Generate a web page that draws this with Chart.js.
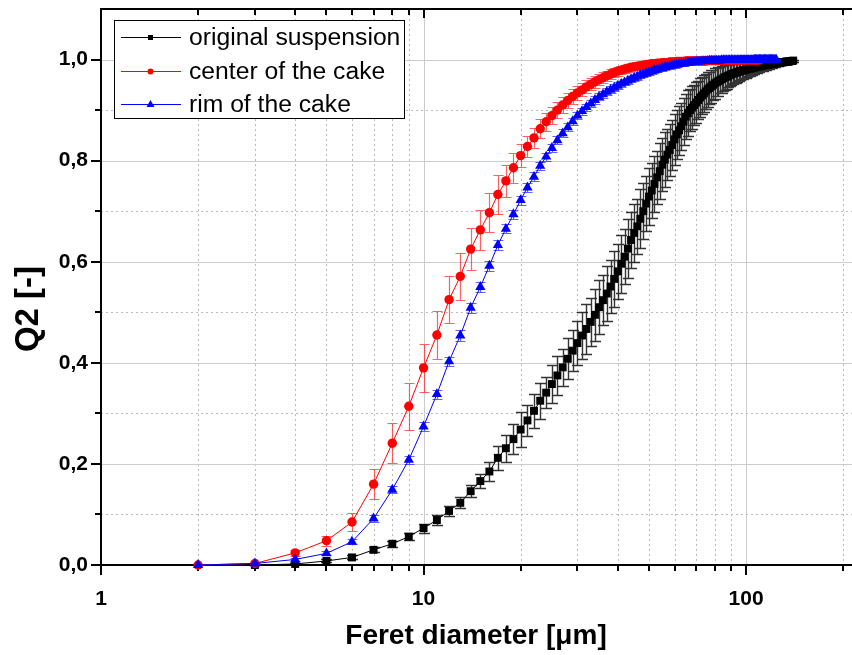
<!DOCTYPE html>
<html>
<head>
<meta charset="utf-8">
<script src="https://cdn.jsdelivr.net/npm/chart.js@4.4.0/dist/chart.umd.min.js"></script>
<style>
html, body { margin: 0; padding: 0; background: #fff; }
#wrap { width: 852px; height: 655px; position: relative; }
</style>
</head>
<body>
<div id="wrap"><canvas id="chart"></canvas></div>
<script>
// --- Data ---
const SERIES_NAMES = ['original suspension', 'center of the cake', 'rim of the cake'];

const BLACK_X = [3,4,5,6,7,8,9,10,
  11,12,13,14,15,16,17,18,19,20,
  21,22,23,24,25,26,27,28,29,30,
  31,32,33,34,35,36,37,38,39,40,
  41,42,43,44,45,46,47,48,49,50,
  51,52,53,54,55,56,57,58,59,60,
  61,62,63,64,65,66,67,68,69,70,
  71,72,73,74,75,76,77,78,79,80,
  81,82,83,84,85,86,87,88,89,90,
  91,92,93,94,95,96,97,98,99,100,
  101,102,103,104,105,106,107,108,109,110,
  111,112,113,114,115,116,117,118,119,120,
  121,122,123,124,125,126,127,128,129,130,
  131,132,133,134,135,136,137,138,139,140];
const BLACK_Y = [0.000,0.002,0.008,0.015,0.030,0.042,0.056,0.073,
  0.089,0.107,0.123,0.146,0.166,0.185,0.212,0.231,0.249,0.268,
  0.286,0.305,0.325,0.341,0.358,0.375,0.391,0.408,0.424,0.439,
  0.454,0.467,0.481,0.495,0.510,0.524,0.537,0.551,0.566,0.581,
  0.596,0.610,0.626,0.643,0.657,0.670,0.685,0.700,0.715,0.729,
  0.741,0.754,0.767,0.779,0.792,0.802,0.812,0.821,0.831,0.842,
  0.852,0.860,0.868,0.877,0.887,0.894,0.900,0.905,0.910,0.915,
  0.920,0.925,0.929,0.933,0.937,0.941,0.944,0.947,0.950,0.953,
  0.955,0.957,0.959,0.961,0.963,0.965,0.966,0.968,0.969,0.971,
  0.972,0.973,0.974,0.975,0.976,0.977,0.978,0.979,0.979,0.980,
  0.981,0.982,0.982,0.983,0.984,0.984,0.985,0.986,0.986,0.987,
  0.987,0.988,0.988,0.989,0.989,0.990,0.990,0.990,0.991,0.991,
  0.992,0.992,0.992,0.993,0.993,0.993,0.994,0.994,0.994,0.995,
  0.995,0.995,0.996,0.996,0.996,0.996,0.997,0.997,0.997,0.998];
const BLACK_ERR = [0,0.001,0.003,0.004,0.005,0.006,0.007,0.009,
  0.010,0.010,0.011,0.012,0.014,0.018,0.024,0.027,0.030,0.034,
  0.030,0.033,0.036,0.031,0.037,0.039,0.037,0.041,0.040,0.044,
  0.046,0.049,0.047,0.051,0.053,0.050,0.055,0.053,0.056,0.054,
  0.057,0.055,0.058,0.056,0.057,0.055,0.058,0.056,0.055,0.057,
  0.054,0.056,0.053,0.055,0.052,0.054,0.051,0.052,0.050,0.051,
  0.048,0.049,0.046,0.047,0.044,0.045,0.042,0.043,0.040,0.041,
  0.038,0.039,0.036,0.037,0.034,0.035,0.032,0.033,0.030,0.031,
  0.028,0.029,0.026,0.027,0.025,0.025,0.024,0.023,0.022,0.022,
  0.021,0.020,0.020,0.019,0.018,0.018,0.017,0.017,0.016,0.016,
  0.015,0.015,0.014,0.014,0.013,0.013,0.012,0.012,0.011,0.011,
  0.010,0.010,0.010,0.009,0.009,0.009,0.008,0.008,0.008,0.007,
  0.007,0.007,0.006,0.006,0.006,0.005,0.005,0.005,0.005,0.004,
  0.004,0.004,0.004,0.003,0.003,0.003,0.003,0.002,0.002,0.002];

const RED_X = [2,3,4,5,6,7,8,9,10,
  11,12,13,14,15,16,17,18,19,20,
  21,22,23,24,25,26,27,28,29,30,
  31,32,33,34,35,36,37,38,39,40,
  41,42,43,44,45,46,47,48,49,50,
  51,52,53,54,55,56,57,58,59,60,
  61,62,63,64,65,66,67,68,69,70,
  71,72,73,74,75,76,77,78,79,80,
  81,82,83,84,85,86,87,88,89,90,
  91,92,93,94,95,96,97,98,99,100,
  101,102,103,104,105,106,107,108,109,110];
const RED_Y = [0.000,0.003,0.024,0.048,0.085,0.160,0.241,0.314,0.390,
  0.455,0.525,0.571,0.625,0.663,0.697,0.733,0.760,0.786,0.810,
  0.828,0.845,0.863,0.877,0.889,0.900,0.910,0.919,0.927,0.934,
  0.940,0.946,0.951,0.956,0.960,0.964,0.968,0.971,0.974,0.977,
  0.979,0.981,0.983,0.985,0.986,0.987,0.988,0.989,0.990,0.991,
  0.992,0.992,0.993,0.993,0.994,0.994,0.994,0.995,0.995,0.995,
  0.996,0.996,0.996,0.996,0.997,0.997,0.997,0.997,0.997,0.997,
  0.997,0.997,0.997,0.997,0.997,0.998,0.998,0.998,0.998,0.998,
  0.998,0.998,0.998,0.998,0.998,0.998,0.998,0.998,0.998,0.998,
  0.998,0.998,0.998,0.998,0.998,0.999,0.999,0.999,0.999,0.999,
  0.999,0.999,0.999,0.999,0.999,0.999,0.999,0.999,0.999,0.999];
const RED_ERR = [0,0.002,0.006,0.010,0.017,0.030,0.039,0.046,0.047,
  0.047,0.047,0.046,0.042,0.040,0.039,0.038,0.032,0.030,0.022,
  0.021,0.020,0.019,0.018,0.017,0.016,0.016,0.015,0.015,0.014,
  0.013,0.013,0.012,0.012,0.011,0.011,0.010,0.010,0.009,0.009,
  0.008,0.008,0.008,0.007,0.007,0.007,0.006,0.006,0.006,0.006,
  0.005,0.005,0.005,0.005,0.005,0.005,0.005,0.005,0.005,0.005,
  0.004,0.004,0.004,0.004,0.004,0.004,0.004,0.004,0.004,0.004,
  0.004,0.004,0.004,0.004,0.004,0.004,0.004,0.004,0.004,0.004,
  0.003,0.003,0.003,0.003,0.003,0.003,0.003,0.003,0.003,0.003,
  0.003,0.003,0.003,0.003,0.003,0.003,0.003,0.003,0.003,0.003,
  0.002,0.002,0.002,0.002,0.002,0.002,0.002,0.002,0.002,0.002];

const BLUE_X = [2,3,4,5,6,7,8,9,10,
  11,12,13,14,15,16,17,18,19,20,
  21,22,23,24,25,26,27,28,29,30,
  31,32,33,34,35,36,37,38,39,40,
  41,42,43,44,45,46,47,48,49,50,
  51,52,53,54,55,56,57,58,59,60,
  61,62,63,64,65,66,67,68,69,70,
  71,72,73,74,75,76,77,78,79,80,
  81,82,83,84,85,86,87,88,89,90,
  91,92,93,94,95,96,97,98,99,100,
  101,102,103,104,105,106,107,108,109,110,
  111,112,113,114,115,116,117,118,119,120,
  121,122,123,124];
const BLUE_Y = [0.000,0.003,0.011,0.023,0.046,0.092,0.149,0.208,0.274,
  0.338,0.403,0.454,0.509,0.550,0.592,0.633,0.665,0.694,0.722,
  0.747,0.768,0.790,0.808,0.825,0.840,0.854,0.866,0.878,0.889,
  0.898,0.906,0.913,0.920,0.926,0.931,0.936,0.940,0.944,0.948,
  0.952,0.955,0.958,0.961,0.964,0.966,0.969,0.971,0.973,0.975,
  0.977,0.979,0.980,0.982,0.983,0.985,0.986,0.987,0.988,0.989,
  0.990,0.991,0.992,0.992,0.993,0.994,0.994,0.995,0.995,0.996,
  0.996,0.996,0.997,0.997,0.997,0.997,0.998,0.998,0.998,0.998,
  0.998,0.998,0.998,0.999,0.999,0.999,0.999,0.999,0.999,0.999,
  0.999,0.999,0.999,0.999,0.999,0.999,0.999,0.999,0.999,0.999,
  0.999,0.999,0.999,0.999,0.999,1.000,1.000,1.000,1.000,1.000,
  1.000,1.000,1.000,1.000,1.000,1.000,1.000,1.000,1.000,1.000,
  1.000,1.000,1.000,1.000];
const BLUE_ERR = [0,0.001,0.003,0.004,0.005,0.006,0.007,0.008,0.009,
  0.009,0.009,0.010,0.010,0.010,0.010,0.010,0.009,0.009,0.009,
  0.009,0.009,0.008,0.008,0.008,0.008,0.008,0.008,0.007,0.007,
  0.007,0.007,0.007,0.007,0.007,0.007,0.007,0.007,0.007,0.007,
  0.006,0.006,0.006,0.006,0.006,0.006,0.006,0.006,0.006,0.006,
  0.005,0.005,0.005,0.005,0.005,0.005,0.005,0.005,0.005,0.005,
  0.004,0.004,0.004,0.004,0.004,0.004,0.004,0.004,0.004,0.004,
  0.003,0.003,0.003,0.003,0.003,0.003,0.003,0.003,0.003,0.003,
  0.003,0.003,0.003,0.003,0.003,0.003,0.003,0.003,0.003,0.003,
  0.002,0.002,0.002,0.002,0.002,0.002,0.002,0.002,0.002,0.002,
  0.002,0.002,0.002,0.002,0.002,0.002,0.002,0.002,0.002,0.002,
  0.001,0.001,0.001,0.001,0.001,0.001,0.001,0.001,0.001,0.001,
  0.001,0.001,0.001,0.001];

const X_TICKS = [1,2,3,4,5,6,7,8,9,10,20,30,40,50,60,70,80,90,100,200];
const X_TICK_LABELS = ['1','','','','','','','','','10','','','','','','','','','100',''];
const X_MAJOR = [1, 10, 100];
const Y_TICKS = [0,0.1,0.2,0.3,0.4,0.5,0.6,0.7,0.8,0.9,1.0];
const Y_TICK_LABELS = ['0,0','','0,2','','0,4','','0,6','','0,8','','1,0'];
const X_TITLE = 'Feret diameter [\u03bcm]';
const Y_TITLE = 'Q2 [-]';

const FONT = '"Liberation Sans", Arial, sans-serif';

function pts(xs, ys) { return xs.map((x, i) => ({ x: x, y: ys[i] })); }

// grid lines and axis frame, drawn under the data
const framePlugin = {
    id: 'frame',
    beforeDatasetsDraw(chart) {
        const { ctx, chartArea: a, scales: { x, y } } = chart;
        ctx.save();
        ctx.lineWidth = 1;
        X_TICKS.forEach(v => {
            const px = Math.round(x.getPixelForValue(v)) + 0.5;
            if (px < a.left + 2 || px > a.right) return;
            const major = X_MAJOR.includes(v);
            ctx.strokeStyle = major ? '#cccccc' : '#bbbbbb';
            ctx.setLineDash(major ? [] : [2, 3]);
            ctx.beginPath(); ctx.moveTo(px, a.top); ctx.lineTo(px, a.bottom); ctx.stroke();
        });
        Y_TICKS.forEach((v, i) => {
            if (i === 0) return;
            const py = Math.round(y.getPixelForValue(v)) + 0.5;
            const major = i % 2 === 0;
            ctx.strokeStyle = major ? '#cccccc' : '#bbbbbb';
            ctx.setLineDash(major ? [] : [2, 3]);
            ctx.beginPath(); ctx.moveTo(a.left, py); ctx.lineTo(a.right, py); ctx.stroke();
        });
        ctx.setLineDash([]);

        // axes
        ctx.strokeStyle = '#000';
        ctx.lineWidth = 2;
        ctx.beginPath();
        ctx.moveTo(a.left, a.top); ctx.lineTo(a.left, a.bottom + 1);
        ctx.moveTo(a.left - 1, a.bottom); ctx.lineTo(a.right, a.bottom);
        ctx.moveTo(a.left - 1, a.top); ctx.lineTo(a.right, a.top);
        ctx.stroke();

        // tick marks
        ctx.beginPath();
        X_TICKS.forEach(v => {
            const px = Math.round(x.getPixelForValue(v));
            if (px > a.right) return;
            const major = X_MAJOR.includes(v);
            ctx.moveTo(px, a.bottom); ctx.lineTo(px, a.bottom + (major ? 10 : 6));
            ctx.moveTo(px, a.top); ctx.lineTo(px, a.top + (major ? 9 : 6));
        });
        Y_TICKS.forEach((v, i) => {
            const py = Math.round(y.getPixelForValue(v));
            ctx.moveTo(a.left, py); ctx.lineTo(a.left - (i % 2 === 0 ? 10 : 6), py);
        });
        ctx.stroke();
        ctx.restore();
    }
};

// vertical error bars with caps, under each dataset's markers
const errorBarPlugin = {
    id: 'errorBars',
    beforeDatasetDraw(chart, args) {
        const ds = chart.data.datasets[args.index];
        if (!ds.errors) return;
        const { ctx, scales: { x, y } } = chart;
        const cap = ds.capHalf || 5;
        ctx.save();
        ctx.strokeStyle = ds.errColor;
        ctx.lineWidth = ds.errWidth || 1;
        ctx.beginPath();
        ds.data.forEach((p, i) => {
            const e = ds.errors[i];
            if (!e) return;
            const px = Math.round(x.getPixelForValue(p.x)) + 0.5;
            const y1 = Math.round(y.getPixelForValue(p.y + e)) + 0.5;
            const y2 = Math.round(y.getPixelForValue(p.y - e)) + 0.5;
            ctx.moveTo(px, y1); ctx.lineTo(px, y2);
            ctx.moveTo(px - cap, y1); ctx.lineTo(px + cap, y1);
            ctx.moveTo(px - cap, y2); ctx.lineTo(px + cap, y2);
        });
        ctx.stroke();
        ctx.restore();
    }
};

// boxed legend inside the plot + axis titles
const legendPlugin = {
    id: 'boxLegend',
    afterDraw(chart) {
        const ctx = chart.ctx;
        const rows = [37, 71, 104];
        ctx.save();
        ctx.fillStyle = '#fff';
        ctx.fillRect(114, 20, 290, 98);
        ctx.strokeStyle = '#000';
        ctx.lineWidth = 1;
        ctx.strokeRect(114.5, 20.5, 290, 98);

        chart.data.datasets.forEach((ds, i) => {
            const ry = rows[i] + 0.5;
            ctx.strokeStyle = ds.borderColor;
            ctx.lineWidth = 1;
            ctx.beginPath(); ctx.moveTo(121, ry); ctx.lineTo(181, ry); ctx.stroke();
            ctx.fillStyle = ds.backgroundColor;
            ctx.beginPath();
            if (ds.pointStyle === 'rect') {
                ctx.rect(148, ry - 2.5, 5, 5);
            } else if (ds.pointStyle === 'circle') {
                ctx.arc(150.5, ry, 3, 0, Math.PI * 2);
            } else {
                ctx.moveTo(150.5, ry - 4.5);
                ctx.lineTo(154.5, ry + 2.5);
                ctx.lineTo(146.5, ry + 2.5);
                ctx.closePath();
            }
            ctx.fill();

            ctx.fillStyle = '#000';
            ctx.font = '24.7px ' + FONT;
            ctx.textAlign = 'left';
            ctx.textBaseline = 'middle';
            ctx.fillText(ds.label, 189, rows[i] + 1);
        });

        // axis titles
        ctx.fillStyle = '#000';
        ctx.font = 'bold 28px ' + FONT;
        ctx.textAlign = 'center';
        ctx.textBaseline = 'middle';
        ctx.fillText(X_TITLE, 476, 636);
        ctx.translate(29, 309);
        ctx.rotate(-Math.PI / 2);
        ctx.font = 'bold 33px ' + FONT;
        ctx.fillText(Y_TITLE, 0, 0);
        ctx.restore();
    }
};

new Chart(document.getElementById('chart'), {
    type: 'scatter',
    data: {
        datasets: [
            {
                label: SERIES_NAMES[0],
                data: pts(BLACK_X, BLACK_Y),
                errors: BLACK_ERR,
                errColor: 'rgba(0,0,0,0.8)',
                errWidth: 1.4,
                capHalf: 5.5,
                showLine: true,
                borderColor: '#000000',
                backgroundColor: '#000000',
                borderWidth: 1,
                pointStyle: 'rect',
                pointRadius: 5.6,
                pointBorderWidth: 0,
                order: 3,
                clip: false
            },
            {
                label: SERIES_NAMES[1],
                data: pts(RED_X, RED_Y),
                errors: RED_ERR,
                errColor: 'rgba(255,30,30,0.7)',
                errWidth: 1.2,
                capHalf: 5,
                showLine: true,
                borderColor: '#ff0000',
                backgroundColor: '#ff0000',
                borderWidth: 1,
                pointStyle: 'circle',
                pointRadius: 4.7,
                pointBorderWidth: 0,
                order: 2,
                clip: false
            },
            {
                label: SERIES_NAMES[2],
                data: pts(BLUE_X, BLUE_Y),
                errors: BLUE_ERR,
                errColor: 'rgba(30,30,255,0.7)',
                errWidth: 1.2,
                capHalf: 5,
                showLine: true,
                borderColor: '#0000ff',
                backgroundColor: '#0000ff',
                borderWidth: 1,
                pointStyle: 'triangle',
                pointRadius: 5.9,
                pointBorderWidth: 0,
                order: 1,
                clip: false
            }
        ]
    },
    options: {
        responsive: true,
        maintainAspectRatio: false,
        animation: false,
        layout: { autoPadding: false, padding: { top: 9, right: 0, bottom: 0, left: 0 } },
        plugins: { legend: { display: false }, tooltip: { enabled: false } },
        scales: {
            x: {
                type: 'logarithmic',
                min: 1,
                max: 213,
                afterBuildTicks: s => { s.ticks = X_TICKS.map(v => ({ value: v })); },
                afterFit: s => { s.height = 90; s.paddingLeft = 0; s.paddingRight = 0; },
                grid: { display: false, drawTicks: false },
                border: { display: false },
                ticks: {
                    autoSkip: false,
                    maxRotation: 0,
                    padding: 22,
                    color: '#000',
                    font: { family: FONT, size: 21, weight: 'bold' },
                    callback: (v, i) => X_TICK_LABELS[i]
                }
            },
            y: {
                min: 0,
                max: 1.1,
                afterBuildTicks: s => { s.ticks = Y_TICKS.map(v => ({ value: v })); },
                afterFit: s => { s.width = 101; s.paddingTop = 0; s.paddingBottom = 0; },
                grid: { display: false, drawTicks: false },
                border: { display: false },
                ticks: {
                    padding: 13,
                    color: '#000',
                    font: { family: FONT, size: 21, weight: 'bold' },
                    callback: (v, i) => Y_TICK_LABELS[i]
                }
            }
        }
    },
    plugins: [framePlugin, errorBarPlugin, legendPlugin]
});
</script>
</body>
</html>
